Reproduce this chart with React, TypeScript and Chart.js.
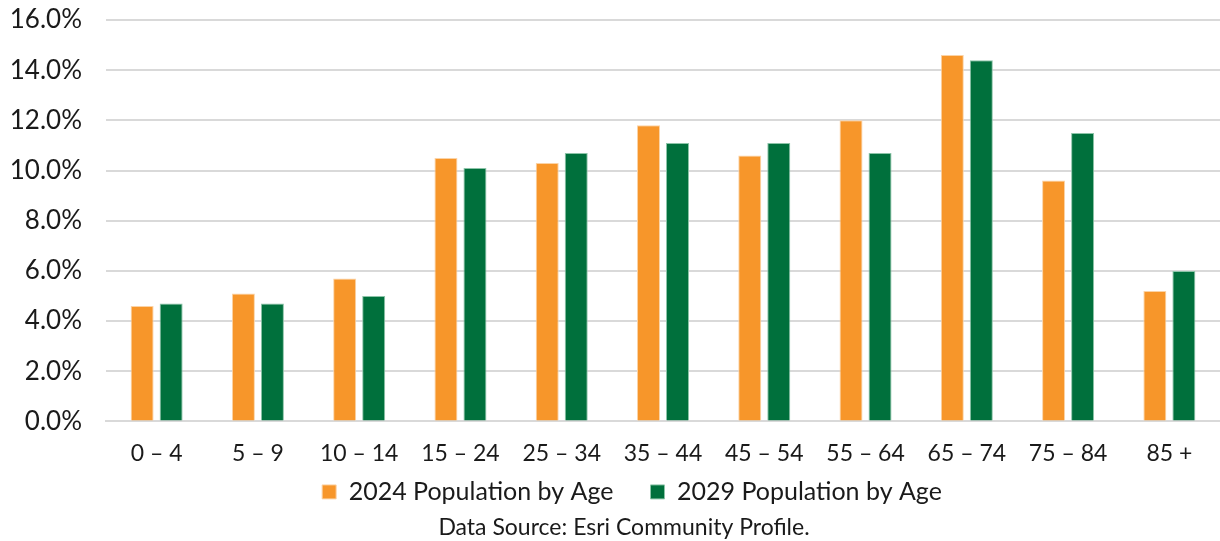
import React, { useEffect, useRef } from "react";
import { Chart, registerables } from "chart.js";

Chart.register(...registerables);

const ageGroups = ["0 – 4", "5 – 9", "10 – 14", "15 – 24", "25 – 34", "35 – 44", "45 – 54", "55 – 64", "65 – 74", "75 – 84", "85 +"];
const pop2024 = [4.6, 5.1, 5.7, 10.5, 10.3, 11.8, 10.6, 12.0, 14.6, 9.6, 5.2];
const pop2029 = [4.7, 4.7, 5.0, 10.1, 10.7, 11.1, 11.1, 10.7, 14.4, 11.5, 6.0];
const seriesLabels = ["2024 Population by Age", "2029 Population by Age"];
const sourceNote = "Data Source: Esri Community Profile.";

const ORANGE = "#F7962A";
const GREEN = "#00703C";
const INK = "#1A1A1A";
const FONT = "Lato, 'Open Sans', sans-serif";

// fixed box sizes for the axes and the legend
const Y_AXIS_WIDTH = 106;
const X_AXIS_HEIGHT = 46;
const LEGEND_HEIGHT = 46;
// horizontal nudges for the bottom blocks
const LEGEND_SHIFT = 22;
const NOTE_SHIFT = 14;

function shiftDraw(box: any, dx: number) {
  const draw = box.draw;
  box.draw = function (...args: any[]) {
    const ctx = this.ctx;
    ctx.save();
    ctx.translate(dx, 0);
    draw.apply(this, args);
    ctx.restore();
  };
}

const bottomBlocks = {
  id: "bottomBlocks",
  beforeLayout(chart: any) {
    const legend = chart.legend;
    if (legend && !legend.__tuned) {
      const fit = legend.fit;
      legend.fit = function () {
        fit.call(this);
        this.height = LEGEND_HEIGHT;
      };
      shiftDraw(legend, LEGEND_SHIFT);
      legend.__tuned = true;
    }
    for (const box of chart.boxes) {
      if (box !== legend && box.options && box.options.text === sourceNote && !box.__tuned) {
        shiftDraw(box, NOTE_SHIFT);
        box.__tuned = true;
      }
    }
  },
};

export default function App() {
  const canvasRef = useRef<HTMLCanvasElement | null>(null);

  useEffect(() => {
    document.body.style.margin = "0";
    const ctx = canvasRef.current;
    if (!ctx) return;
    const chart = new Chart(ctx, {
      type: "bar",
      data: {
        labels: ageGroups,
        datasets: [
          {
            label: seriesLabels[0],
            data: pop2024,
            backgroundColor: ORANGE,
            borderColor: "#FBD3A6",
            borderWidth: 1,
            categoryPercentage: 0.573,
            barPercentage: 0.793,
          },
          {
            label: seriesLabels[1],
            data: pop2029,
            backgroundColor: GREEN,
            borderColor: "#8CC4A8",
            borderWidth: 1,
            categoryPercentage: 0.573,
            barPercentage: 0.793,
          },
        ],
      },
      plugins: [bottomBlocks],
      options: {
        animation: false,
        responsive: false,
        maintainAspectRatio: false,
        layout: { padding: { top: 20, right: 0, left: 0, bottom: 0 } },
        scales: {
          x: {
            grid: { display: false, drawTicks: false },
            border: { display: true, color: "#D9D9D9", width: 2 },
            ticks: {
              color: INK,
              font: { family: FONT, size: 23 },
              padding: 18,
              maxRotation: 0,
              minRotation: 0,
              autoSkip: false,
            },
            afterFit(scale: any) {
              scale.height = X_AXIS_HEIGHT;
              scale.paddingLeft = 0;
              scale.paddingRight = 0;
              scale.paddingTop = 0;
              scale.paddingBottom = 0;
            },
          },
          y: {
            min: 0,
            max: 16,
            grid: { color: "#D9D9D9", lineWidth: 2, drawTicks: false },
            border: { display: false },
            ticks: {
              stepSize: 2,
              color: INK,
              padding: 24,
              font: { family: FONT, size: 26 },
              callback: (v) => Number(v).toFixed(1) + "%",
            },
            afterFit(scale: any) {
              scale.width = Y_AXIS_WIDTH;
              scale.paddingTop = 0;
              scale.paddingBottom = 0;
              scale.paddingLeft = 0;
              scale.paddingRight = 0;
            },
          },
        },
        plugins: {
          legend: {
            position: "bottom",
            labels: {
              boxWidth: 14,
              boxHeight: 14,
              color: INK,
              padding: 12,
              font: { family: FONT, size: 25 },
              generateLabels: (c) => {
                const items = Chart.defaults.plugins.legend.labels.generateLabels(c);
                // widen the gap between the two legend entries
                if (items.length) items[0].text = items[0].text + "\u2002\u2002";
                return items;
              },
            },
          },
          subtitle: {
            display: true,
            text: sourceNote,
            position: "bottom",
            color: INK,
            font: { family: FONT, size: 23, weight: "normal" },
            padding: { top: 0, bottom: 0 },
          },
          tooltip: { enabled: false },
        },
      },
    });
    return () => chart.destroy();
  }, []);

  return (
    <div style={{ position: "fixed", left: 0, top: 0, width: 1220, height: 541, background: "#fff" }}>
      <canvas ref={canvasRef} width={1220} height={541} style={{ width: 1220, height: 541 }} />
    </div>
  );
}
